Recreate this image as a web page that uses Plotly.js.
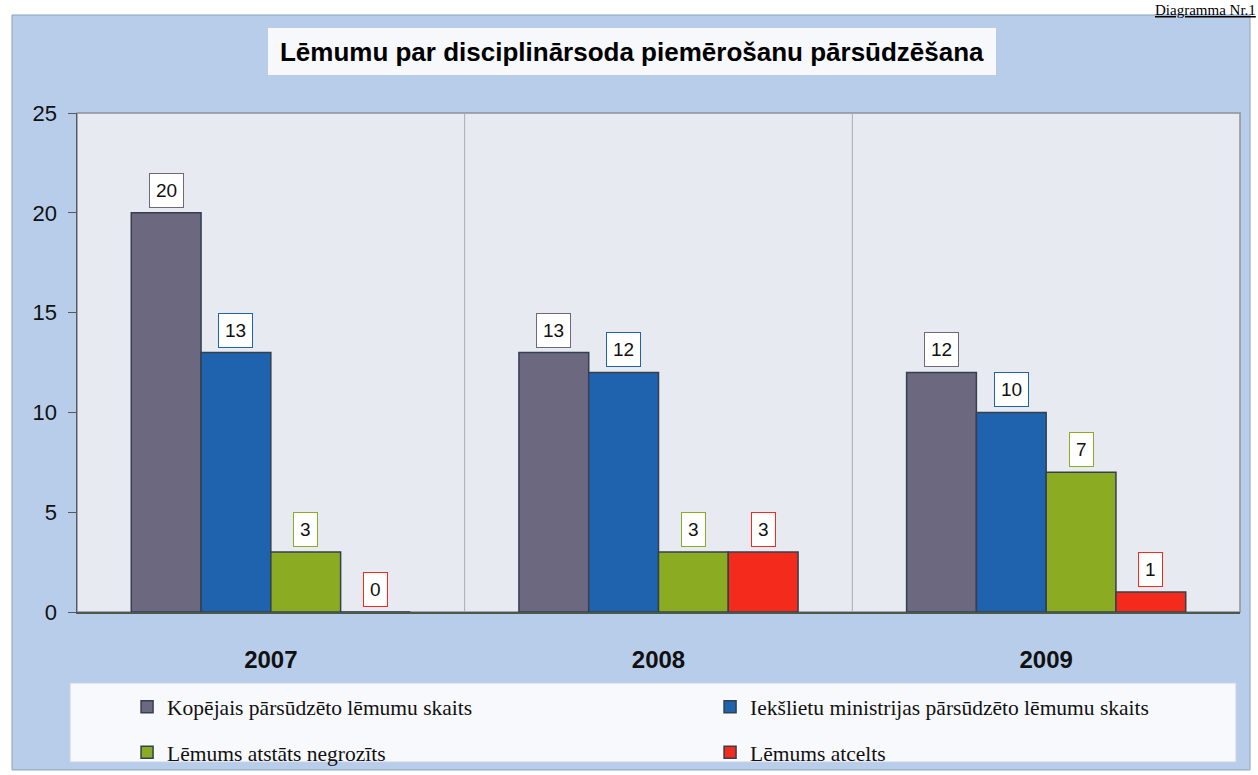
<!DOCTYPE html>
<html>
<head>
<meta charset="utf-8">
<script src="https://cdn.plot.ly/plotly-3.0.1.min.js"></script>
<style>
  html, body { margin: 0; padding: 0; background: #ffffff; }
  #chart { width: 1258px; height: 775px; }
</style>
</head>
<body>
<div id="chart"></div>
<script>
var years = ['2007', '2008', '2009'];

var seriesNames = [
  'Kopējais pārsūdzēto lēmumu skaits',
  'Iekšlietu ministrijas pārsūdzēto lēmumu skaits',
  'Lēmums atstāts negrozīts',
  'Lēmums atcelts'
];

var kopejais = [20, 13, 12];
var iekslietu = [13, 12, 10];
var negrozits = [3, 3, 7];
var atcelts = [0, 3, 1];

var colors = ['#6b6880', '#1f62ae', '#8bac22', '#f42a1c'];
var values = [kopejais, iekslietu, negrozits, atcelts];

var bargap = 0.28;
var barW = (1 - bargap) / 4;

var data = [];
var annotations = [];

for (var s = 0; s < 4; s++) {
  data.push({
    x: years,
    y: values[s],
    name: seriesNames[s],
    type: 'bar',
    hoverinfo: 'none',
    legend: s < 2 ? 'legend' : 'legend2',
    marker: {
      color: colors[s],
      line: { color: '#34404e', width: 1.5 }
    }
  });
  // value labels in small boxes above the bars
  for (var j = 0; j < years.length; j++) {
    annotations.push({
      x: j + (s - 1.5) * barW,
      y: values[s][j],
      xref: 'x',
      yref: 'y',
      text: String(values[s][j]),
      showarrow: false,
      yanchor: 'bottom',
      yshift: 5,
      font: { family: 'Liberation Sans, Arial', size: 19, color: '#111111' },
      bgcolor: '#ffffff',
      bordercolor: colors[s],
      borderwidth: 1,
      borderpad: 6
    });
  }
}

annotations.push({
  x: 1, y: 1, xref: 'paper', yref: 'paper',
  text: '<u>Diagramma Nr.1</u>',
  showarrow: false, xanchor: 'right', yanchor: 'top',
  xshift: 18, yshift: 113,
  font: { family: 'Liberation Serif, Times New Roman', size: 15, color: '#000000' }
});

var shapes = [
  // blue chart background
  { type: 'rect', xref: 'paper', yref: 'paper', layer: 'below',
    x0: -0.0559, x1: 1.0086, y0: -0.3166, y1: 1.1964,
    fillcolor: '#b8cde9', line: { color: '#8da3c4', width: 1 } },
  // title box
  { type: 'rect', xref: 'paper', yref: 'paper', layer: 'below',
    x0: 0.1642, x1: 0.7902, y0: 1.0762, y1: 1.1703,
    fillcolor: '#f7f8fc', line: { width: 0 } },
  // legend box
  { type: 'rect', xref: 'paper', yref: 'paper', layer: 'below',
    x0: -0.006, x1: 0.9966, y0: -0.3006, y1: -0.1423,
    fillcolor: '#f8f9fc', line: { color: '#c8d2e2', width: 1 } },
  // plot area
  { type: 'rect', xref: 'paper', yref: 'paper', layer: 'below',
    x0: 0, x1: 1, y0: 0, y1: 1,
    fillcolor: '#e7eaf1', line: { color: '#8f9197', width: 1.5 } },
  // category separators
  { type: 'line', xref: 'x', yref: 'paper', layer: 'below',
    x0: 0.5, x1: 0.5, y0: 0, y1: 1, line: { color: '#a9abb0', width: 1 } },
  { type: 'line', xref: 'x', yref: 'paper', layer: 'below',
    x0: 1.5, x1: 1.5, y0: 0, y1: 1, line: { color: '#a9abb0', width: 1 } }
];

var legendFont = { family: 'Liberation Serif, Times New Roman', size: 21.5, color: '#111111' };

var layout = {
  width: 1258,
  height: 775,
  margin: { l: 77, r: 18, t: 113, b: 163, autoexpand: false },
  paper_bgcolor: '#ffffff',
  plot_bgcolor: 'rgba(0,0,0,0)',
  barmode: 'group',
  bargap: bargap,
  bargroupgap: 0,
  title: {
    text: 'Lēmumu par disciplinārsoda piemērošanu pārsūdzēšana',
    font: { family: 'Liberation Sans, Arial', size: 26, color: '#000000', weight: 'bold' },
    xref: 'paper', x: 0.477, xanchor: 'center',
    yref: 'container', y: 0.933, yanchor: 'middle'
  },
  xaxis: {
    type: 'category',
    showgrid: false,
    showline: true,
    linecolor: '#4a5a4a',
    linewidth: 1.5,
    ticks: '',
    ticklabelstandoff: 26,
    tickfont: { family: 'Liberation Sans, Arial', size: 24, color: '#111111', weight: 'bold' }
  },
  yaxis: {
    range: [0, 25],
    dtick: 5,
    showgrid: false,
    zeroline: false,
    showline: true,
    linecolor: '#555a60',
    linewidth: 1.5,
    ticks: 'outside',
    ticklen: 8,
    tickcolor: '#555a60',
    ticklabelstandoff: 6,
    tickfont: { family: 'Liberation Sans, Arial', size: 22, color: '#111111' }
  },
  legend: {
    orientation: 'h',
    xref: 'container',
    x: 0.101, xanchor: 'left',
    y: -0.19, yanchor: 'middle',
    bgcolor: 'rgba(0,0,0,0)',
    entrywidth: 538,
    font: legendFont
  },
  legend2: {
    orientation: 'h',
    xref: 'container',
    x: 0.101, xanchor: 'left',
    y: -0.281, yanchor: 'middle',
    bgcolor: 'rgba(0,0,0,0)',
    entrywidth: 538,
    font: legendFont
  },
  shapes: shapes,
  annotations: annotations
};

Plotly.newPlot('chart', data, layout, { displayModeBar: false, staticPlot: true });
</script>
</body>
</html>
